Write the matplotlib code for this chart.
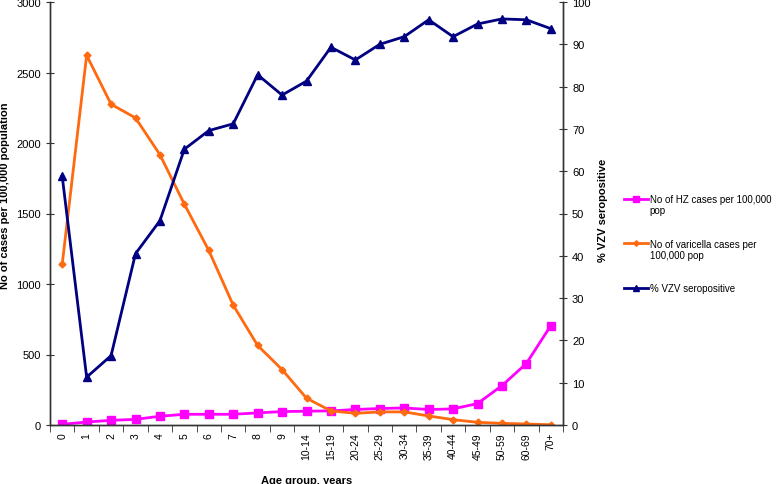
import numpy as np
import matplotlib
matplotlib.use("Agg")
import matplotlib.pyplot as plt
from matplotlib.ticker import FixedLocator

# age groups on the x axis
ages = ["0", "1", "2", "3", "4", "5", "6", "7", "8", "9", "10-14", "15-19",
        "20-24", "25-29", "30-34", "35-39", "40-44", "45-49", "50-59", "60-69", "70+"]

# cases per 100,000 (left axis)
hz_cases = [5, 21, 33, 40, 62, 76, 76, 76, 86, 95, 98, 100,
            110, 117, 121, 110, 114, 152, 279, 436, 705]
varicella_cases = [1140, 2622, 2275, 2178, 1917, 1566, 1238, 850, 564, 393, 190, 100,
                   83, 93, 93, 64, 38, 19, 12, 7, 2]
# % seropositive (right axis)
vzv_pos = [58.8, 11.3, 16.4, 40.5, 48.3, 65.2, 69.6, 71.2, 82.8, 78.0, 81.3, 89.3,
           86.3, 90.0, 91.8, 95.8, 91.8, 94.8, 96.0, 95.8, 93.7]

# legend text, first line and continuation
leg_first = ["No of HZ cases per 100,000", "No of varicella cases per", "% VZV seropositive"]
leg_more = ["pop", "100,000 pop", ""]

x = np.arange(len(ages))
plt.rcParams['font.family'] = ['Liberation Sans', 'DejaVu Sans']

W, H = 777, 485
fig = plt.figure(figsize=(W / 100, H / 100), dpi=100)
ax = fig.add_axes([50 / W, 1 - 426 / H, 513 / W, 423 / H])
ax2 = ax.twinx()

l1, = ax.plot(x, hz_cases, color='#FF00FF', lw=2, marker='s', ms=5.5)
l2, = ax.plot(x, varicella_cases, color='#FF6A10', lw=2, marker='D', ms=3.5)
l3, = ax2.plot(x, vzv_pos, color='#000080', lw=2, marker='^', ms=5.5)

ax.set_xlim(-0.5, len(ages) - 0.5)
ax.set_ylim(0, 3000)
ax2.set_ylim(0, 100)
ax.set_yticks(np.arange(0, 3001, 500))
ax2.set_yticks(np.arange(0, 101, 10))
ax.set_xticks(x)
ax.set_xticklabels(ages, rotation=90, fontsize=7.5)
ax.xaxis.set_minor_locator(FixedLocator(np.arange(-0.5, len(ages), 1)))
ax.tick_params(axis='x', which='major', length=0, pad=5)
ax.tick_params(axis='x', which='minor', length=5, direction='out', color='#333333')
ax.tick_params(axis='y', direction='inout', length=6, labelsize=8, color='#333333')
ax2.tick_params(axis='y', direction='inout', length=6, labelsize=8, color='#333333')

for a in (ax, ax2):
    a.spines['top'].set_visible(False)
    for s in ('left', 'right', 'bottom'):
        a.spines[s].set_color('#333333')
        a.spines[s].set_linewidth(1)

ax.set_ylabel("No of cases per 100,000 population", fontsize=8, fontweight='bold')
ax.yaxis.set_label_coords(-40 / 513, 0.545)
ax2.set_ylabel("% VZV seropositive", fontsize=8, fontweight='bold', rotation=90)
ax2.yaxis.set_label_coords(1 + 35 / 513, 0.51)
ax.set_xlabel("Age group, years", fontsize=8, fontweight='bold')
ax.xaxis.set_label_coords(0.5, -50 / 423)

leg = fig.legend(handles=[l1, l2, l3], labels=leg_first, loc='upper left',
                 bbox_to_anchor=(624 / W, 1 - 195 / H), frameon=False, fontsize=7,
                 handlelength=2.5, handletextpad=0.15, labelspacing=3.55,
                 borderpad=0, borderaxespad=0, markerscale=0.8)

# continuation lines under the first two legend labels
fig.canvas.draw()
r = fig.canvas.get_renderer()
for t, extra in zip(leg.get_texts(), leg_more):
    if extra:
        bb = t.get_window_extent(r)
        fig.text(bb.x0 / W, (bb.y0 - 1) / H, extra, fontsize=7, va='top', ha='left')

fig.savefig("out.png", dpi=100)
